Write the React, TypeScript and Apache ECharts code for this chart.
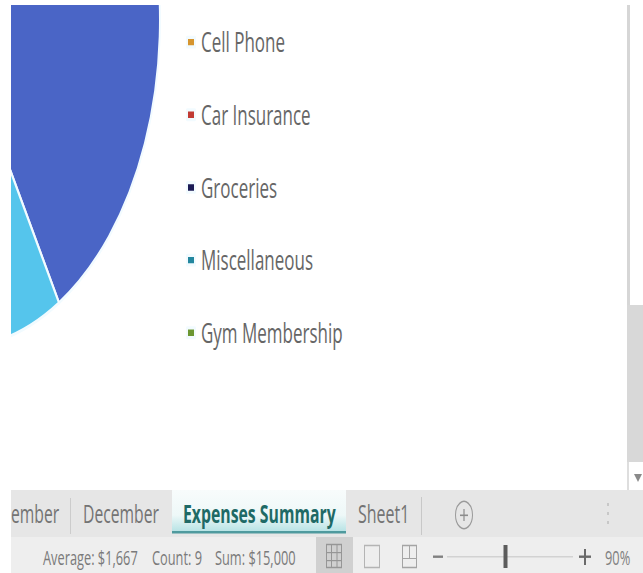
import React, { useEffect, useRef } from "react";
import * as echarts from "echarts";

// Spreadsheet window: the canvas is laid out flat, then stretched vertically.
const PAGE_W = 643;
const PAGE_H = 573;
const CANVAS_H = 358;
const STRETCH = PAGE_H / CANVAS_H;

const expenseNames = [
  "Rent", "Utilities", "Internet", "Car Payment", "Cell Phone",
  "Car Insurance", "Groceries", "Miscellaneous", "Gym Membership",
];
const expenseValues = [6230, 1500, 900, 1100, 800, 1400, 1700, 1000, 370];
const sliceColors = [
  "#4a65c6", "#55c5ec", "#7f8fa9", "#9aa5bd", "#d6952f",
  "#c23b33", "#1b1b55", "#23879f", "#6c9632",
];
const legendNames = ["Cell Phone", "Car Insurance", "Groceries", "Miscellaneous", "Gym Membership"];
const sheetTabs = ["ember", "December", "Sheet1"];
const activeTab = "Expenses Summary";
const statusItems = ["Average: $1,667", "Count: 9", "Sum: $15,000"];
const zoomLabel = "90%";

const UI_FONT = '"Open Sans", sans-serif';
const y = (v: number) => v / STRETCH;

function box(x: number, top: number, w: number, h: number, fill: any) {
  return { type: "rect", z: 10, shape: { x, y: y(top), width: w, height: y(h) }, style: { fill } };
}
function stroke(x: number, top: number, w: number, h: number, color: string, lineWidth = 1) {
  return { type: "rect", z: 11, shape: { x, y: y(top), width: w, height: y(h) }, style: { fill: "none", stroke: color, lineWidth } };
}
function label(text: string, x: number, cy: number, font: string, fill: string) {
  return { type: "text", z: 12, x, y: y(cy), style: { text, font, fill, verticalAlign: "middle", align: "left" } };
}

function chrome() {
  const tabFont = `15.7px ${UI_FONT}`;
  const statusFont = `12.8px ${UI_FONT}`;
  return [
    // outer margins hide the rest of the pie
    box(0, 0, 11, PAGE_H, "#ffffff"),
    box(0, 0, PAGE_W, 5, "#ffffff"),
    // scrollbar
    box(627, 5, 3, 300, "#d6d6d6"),
    box(627, 305, 16, 157, "#d8d8d8"),
    box(627, 462, 2, 28, "#dedede"),
    { type: "polygon", z: 11, shape: { points: [[634, y(474)], [642, y(474)], [638, y(482)]] }, style: { fill: "#8a8a8a" } },
    // sheet tab row and status row
    box(11, 490, 632, 47, "#e6e6e6"),
    box(11, 537, 632, 36, "#eeeeee"),
    box(70, 498, 1, 36, "#cccccc"),
    box(421, 497, 1, 38, "#c8c8c8"),
    box(172, 490, 174, 42, {
      type: "linear", x: 0, y: 0, x2: 0, y2: 1,
      colorStops: [{ offset: 0, color: "#f8fcfc" }, { offset: 0.6, color: "#eef8f8" }, { offset: 1, color: "#b5e2e4" }],
    }),
    box(172, 531, 174, 2.5, "#4f9a9e"),
    label(sheetTabs[0], 11, 513, tabFont, "#747474"),
    label(sheetTabs[1], 83, 513, tabFont, "#747474"),
    label(activeTab, 183, 513, `bold 15.8px ${UI_FONT}`, "#1f6a66"),
    label(sheetTabs[2], 358, 513, `16px ${UI_FONT}`, "#747474"),
    { type: "circle", z: 11, shape: { cx: 464, cy: y(515), r: 8.5 }, style: { fill: "none", stroke: "#9a9a9a", lineWidth: 1 } },
    box(460, 514.5, 8, 1.6, "#8c8c8c"),
    box(463.4, 509, 1.2, 12, "#8c8c8c"),
    box(607, 503, 2, 3, "#c8c8c8"),
    box(607, 512, 2, 3, "#c8c8c8"),
    box(607, 521, 2, 3, "#c8c8c8"),
    // status row
    label(statusItems[0], 43, 557, statusFont, "#7a7a7a"),
    label(statusItems[1], 152, 557, statusFont, "#7a7a7a"),
    label(statusItems[2], 215, 557, statusFont, "#7a7a7a"),
    box(316, 537, 37, 36, "#d0d0d0"),
    stroke(326.5, 544.5, 15, 23, "#969696"),
    box(331, 544, 1, 24, "#969696"),
    box(336.5, 544, 1, 24, "#969696"),
    box(326, 552, 16, 1.2, "#969696"),
    box(326, 560, 16, 1.2, "#969696"),
    stroke(364.5, 545.5, 15, 22, "#b4b4b4"),
    stroke(402.5, 545.5, 14, 22, "#a4a4a4"),
    box(409, 546, 1, 12, "#a4a4a4"),
    box(403, 558, 14, 1, "#a4a4a4"),
    // zoom slider
    box(433, 555.5, 10, 2.4, "#808080"),
    box(447, 556, 126, 1.5, "#d2d2d2"),
    box(503.5, 545, 4, 23, "#5c5c5c"),
    box(579, 555.5, 12, 2.4, "#6a6a6a"),
    box(584, 549, 2, 16, "#6a6a6a"),
    label(zoomLabel, 605, 557, statusFont, "#808080"),
  ];
}

export default function App() {
  const ref = useRef<HTMLDivElement>(null);
  useEffect(() => {
    const chart = echarts.init(ref.current!, null, { renderer: "svg" });
    chart.setOption({
      animation: false,
      backgroundColor: "#ffffff",
      color: sliceColors,
      legend: {
        orient: "vertical",
        left: 181,
        top: 12.8,
        data: legendNames,
        selectedMode: false,
        icon: "rect",
        itemWidth: 8,
        itemHeight: 6,
        itemGap: 28.4,
        textStyle: { fontFamily: UI_FONT, fontSize: 17, color: "#666666", padding: [0, 0, 0, 1] },
      },
      series: [
        {
          type: "pie",
          center: [-45, y(20)],
          radius: 205,
          startAngle: 90,
          clockwise: true,
          label: { show: false },
          labelLine: { show: false },
          emphasis: { disabled: true },
          itemStyle: { borderColor: "#f2fbff", borderWidth: 2 },
          data: expenseNames.map((name, i) => ({ name, value: expenseValues[i] })),
        },
      ],
      graphic: { elements: chrome() },
    });
    return () => chart.dispose();
  }, []);
  return (
    <div
      ref={ref}
      style={{
        position: "absolute",
        left: 0,
        top: 0,
        width: PAGE_W,
        height: CANVAS_H,
        transform: `scaleY(${STRETCH})`,
        transformOrigin: "0 0",
      }}
    />
  );
}
